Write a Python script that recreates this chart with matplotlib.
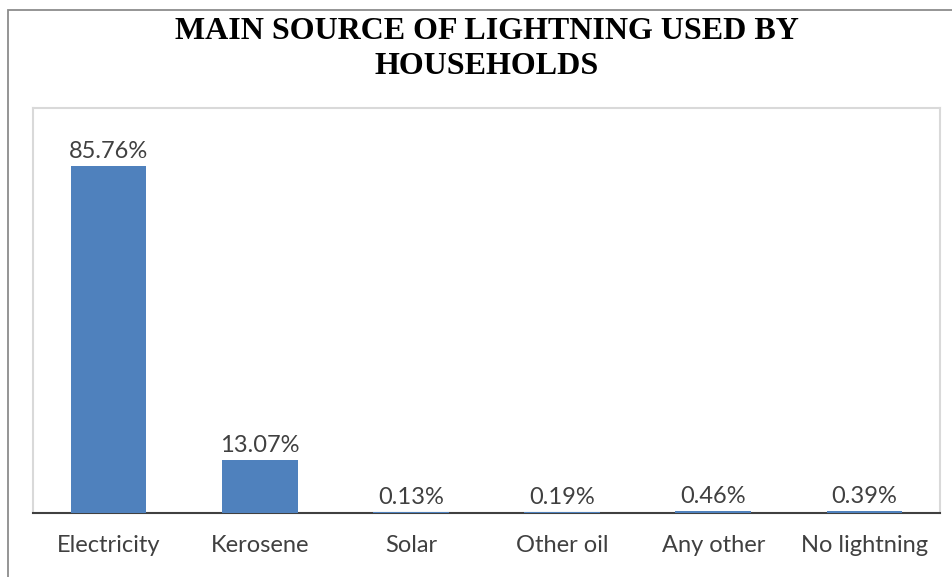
import matplotlib.pyplot as plt
from matplotlib.patches import Rectangle

categories = ["Electricity", "Kerosene", "Solar", "Other oil", "Any other", "No lightning"]
shares = [85.76, 13.07, 0.13, 0.19, 0.46, 0.39]
labels = ["85.76%", "13.07%", "0.13%", "0.19%", "0.46%", "0.39%"]

W, H = 952, 577
fig = plt.figure(figsize=(W / 100, H / 100), dpi=100)

# outer chart border (cut off at right and bottom in the original)
fig.patches.append(Rectangle((8 / W, -0.1), 1.2, 1 - 10 / H + 0.1,
                             transform=fig.transFigure, fill=False,
                             edgecolor="#8c8c8c", linewidth=1.3))

ax = fig.add_axes([33 / W, 1 - 513 / H, (940 - 33) / W, (513 - 108) / H])
x = range(len(categories))
ax.bar(x, shares, width=0.5, color="#4f81bd", zorder=3)
ax.set_xlim(-0.5, len(categories) - 0.5)
ax.set_ylim(0, 100)

for xi, v, lab in zip(x, shares, labels):
    ax.text(xi, v + 1.0, lab, ha="center", va="bottom", fontsize=17,
            family="Lato", color="#404040")

ax.set_xticks(list(x))
ax.set_xticklabels(categories, fontsize=17, family="Lato", color="#404040")
ax.tick_params(axis="x", length=0, pad=16)
ax.set_yticks([])

for s in ["left", "right", "top"]:
    ax.spines[s].set_color("#d9d9d9")
    ax.spines[s].set_linewidth(1.5)
ax.spines["bottom"].set_color("#404040")
ax.spines["bottom"].set_linewidth(1.5)

fig.text(487 / W, 1 - 49 / H, "MAIN SOURCE OF LIGHTNING USED BY\nHOUSEHOLDS",
         ha="center", va="center", fontsize=23, fontweight="bold",
         family="Liberation Serif", linespacing=1.3)

fig.savefig("out.png", dpi=100)
